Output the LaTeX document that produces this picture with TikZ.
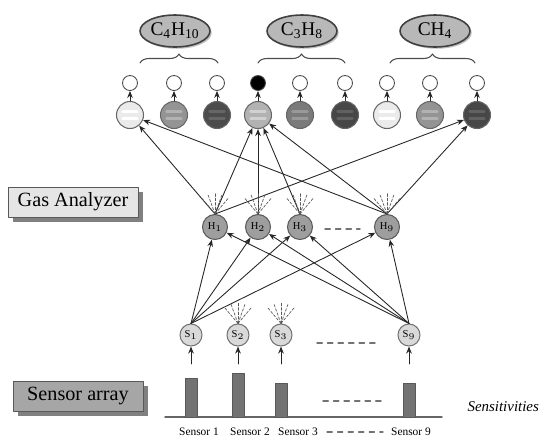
\documentclass[tikz,border=0pt]{standalone}
\usepackage{fontspec}
\setmainfont{Liberation Serif}
\usetikzlibrary{shapes.geometric,decorations.pathreplacing,arrows.meta,shadows}
\tikzset{
  outc/.style={circle,draw=black!70,line width=0.5pt,minimum size=0.3cm,inner sep=0pt},
  prod/.style={circle,draw=black!60,line width=0.6pt,minimum size=0.54cm,inner sep=0pt},
  hid/.style={circle,draw=black!65,line width=0.6pt,fill=black!38,minimum size=0.5cm,inner sep=0pt,font=\fontsize{6}{6}\selectfont},
  sen/.style={circle,draw=black!55,line width=0.6pt,fill=black!15,minimum size=0.44cm,inner sep=0pt,font=\fontsize{6}{6}\selectfont},
  gas/.style={ellipse,draw=black!75,line width=0.9pt,fill=black!28,minimum width=1.4cm,minimum height=0.64cm,inner sep=0pt,
    drop shadow={shadow xshift=1pt,shadow yshift=-1pt,opacity=0.5},font=\fontsize{11}{11}\selectfont},
  panel/.style={draw=black!65,minimum width=2.6cm,minimum height=0.6cm,font=\fontsize{11.5}{12}\selectfont,
    drop shadow={shadow xshift=0.1cm,shadow yshift=-0.1cm,opacity=1,fill=black!50}},
  brace/.style={decorate,decoration={brace,amplitude=0.18cm},black!70,line width=0.6pt},
  conn/.style={-{Stealth[length=4pt,width=3.2pt]},black!85,line width=0.5pt},
  stub/.style={dash pattern=on 1.5pt off 1pt,black!65,line width=0.4pt},
  gap/.style={dashed,black!55,line width=0.8pt},
  lab/.style={font=\fontsize{6.5}{7}\selectfont}
}
\begin{document}
\begin{tikzpicture}[x=0.02cm, y=-0.02cm, line join=round, line cap=round]
\useasboundingbox (0,0) rectangle (542,437);

% Các khí và ngoặc
\foreach \n/\x/\lab in {g1/175/C\textsubscript{4}H\textsubscript{10}, g2/302/C\textsubscript{3}H\textsubscript{8}, g3/435/CH\textsubscript{4}}
  \node[gas] (\n) at (\x,31) {\lab};
\foreach \a/\b in {140/218, 258/345, 390/475}
  \draw[brace] (\a,63) -- (\b,63);

% Lớp ra
\foreach \i/\x/\c/\b/\o in {1/130/black!8/white/white, 2/174/black!42/black!30/white, 3/217/black!70/black!60/white,
    4/258/black!30/black!18/black, 5/300/black!52/black!40/white, 6/345/black!72/black!62/white,
    7/387/black!8/white/white, 8/430/black!42/black!30/white, 9/477/black!72/black!62/white}{
  \node[prod, fill=\c] (p\i) at (\x,115) {};
  \draw[\b, line width=1.3pt] ([xshift=-0.15cm, yshift=0.07cm]p\i.center) -- ++(15,0);
  \draw[\b, line width=1.3pt] ([xshift=-0.15cm, yshift=-0.07cm]p\i.center) -- ++(15,0);
  \node[outc, fill=\o] (o\i) at (\x,83) {};
  \draw[conn] (p\i) -- (o\i);
}

% Lớp ẩn
\foreach \n/\x/\k in {H1/215/1, H2/258/2, H3/300/3, H9/387/9}
  \node[hid] (\n) at (\x,227) {$\mathrm{H}_{\k}$};
\draw[gap] (325,229) -- (360,229);

% Cảm biến
\foreach \n/\x/\k in {S1/191/1, S2/238/2, S3/281/3, S9/409/9}
  \node[sen] (\n) at (\x,335) {$\mathrm{S}_{\k}$};
\draw[gap] (317,343) -- (377,343);

% Nối
\foreach \h in {H1,H2,H3,H9}{
  \draw[conn] (S1.north) -- (\h);
  \draw[conn] (S9.north) -- (\h);
}
\foreach \h/\p in {H1/p1, H1/p4, H1/p9, H2/p4, H3/p4, H9/p1, H9/p4, H9/p9}
  \draw[conn] (\h.north) -- (\p);
\foreach \n in {H1,H2,H3,H9,S2,S3}
  \foreach \a in {50,70,90,110,130}
    \draw[stub] (\n.north) -- ++(\a:0.42cm);

% Độ nhạy
\draw[black!60, line width=0.8pt] (165,417) -- (442,417);
\foreach \i/\x/\t in {1/191/378, 2/238/373, 3/281/383, 9/409/383}{
  \filldraw[fill=black!55, draw=black!65] (\x-6,\t) rectangle (\x+6,417);
  \coordinate (a\i) at (\x,364);
  \draw[conn] (a\i) -- (S\i);
}
\draw[gap] (323,401) -- (383,401);
\foreach \i/\x in {1/199, 2/250, 3/298, 9/411}
  \node[lab] (l\i) at (\x,432) {Sensor \i};
\draw[gap, line width=0.6pt] (327,432) -- (383,432);
\node[anchor=east, inner sep=1pt, font=\itshape\fontsize{8.5}{9}\selectfont] (sens) at (541,407) {Sensitivities};

% Nhãn
\node[panel, fill=black!10] (ga) at (73,202) {Gas Analyzer};
\node[panel, fill=black!35] (sa) at (78,396) {Sensor array};
\end{tikzpicture}
\end{document}
